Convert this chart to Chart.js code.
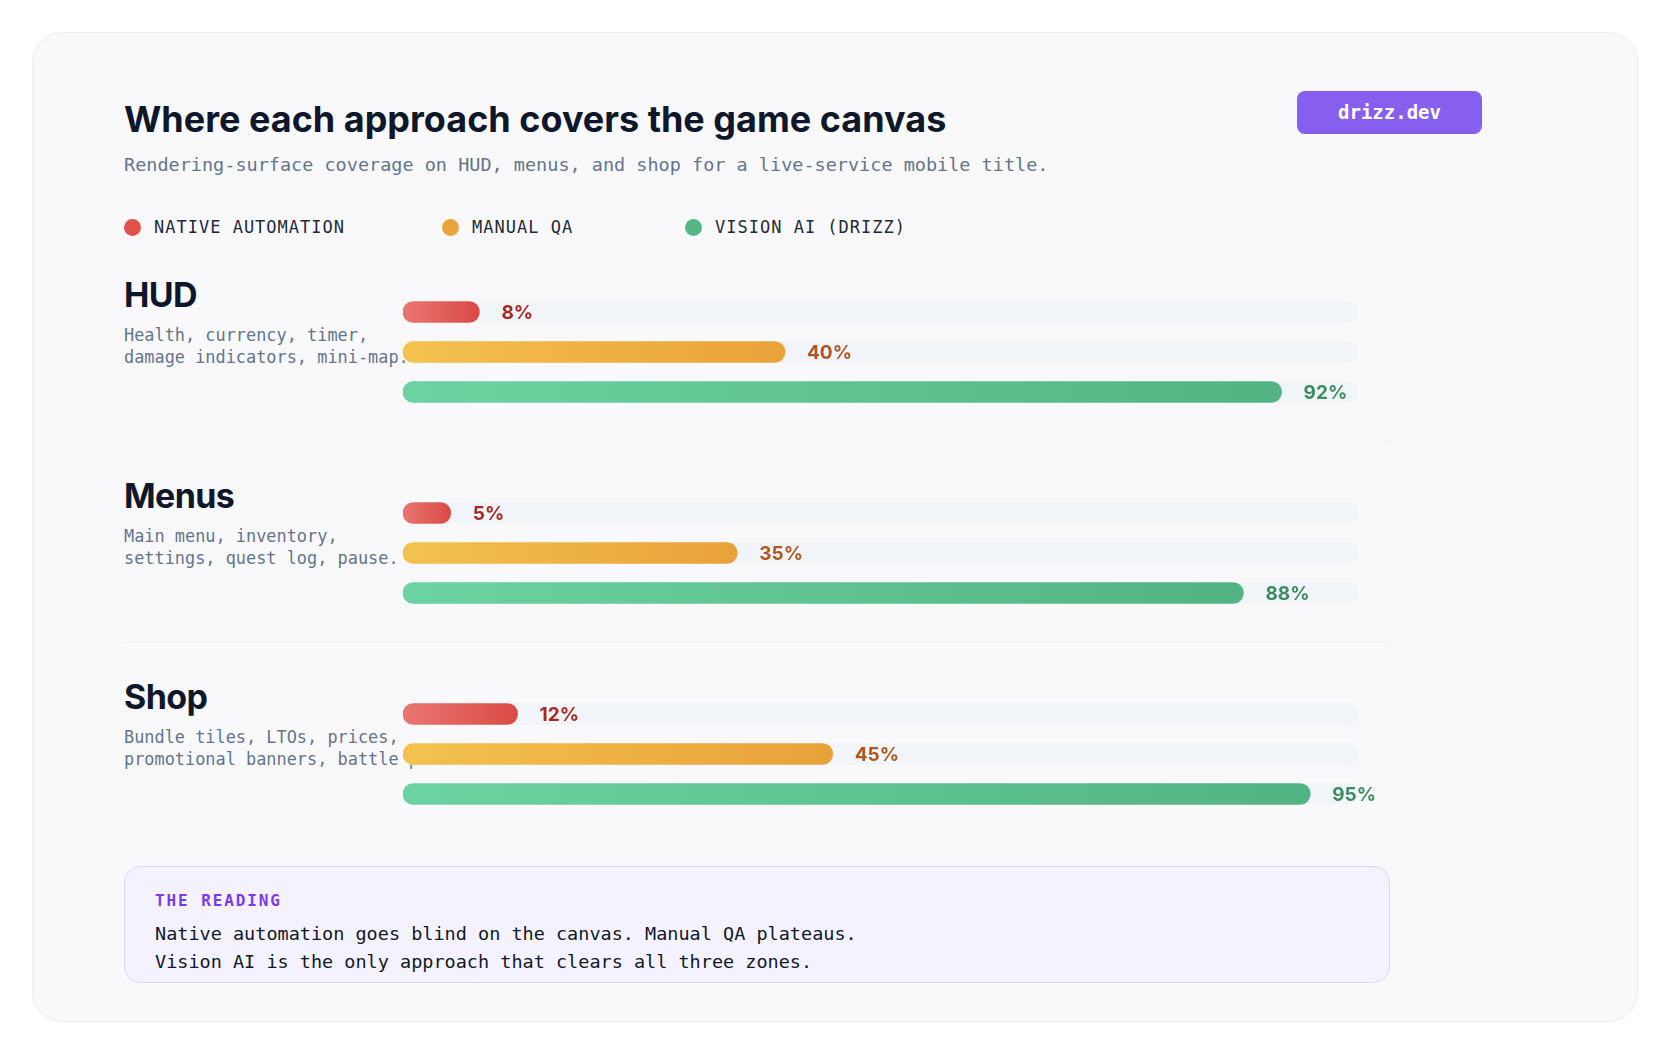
<!DOCTYPE html>
<html>
<head>
<meta charset="utf-8">
<script src="https://cdn.jsdelivr.net/npm/chart.js@4.4.1/dist/chart.umd.min.js"></script>
<style>
  html, body { margin: 0; padding: 0; background: #ffffff; }
  body { width: 1670px; height: 1044px; position: relative; overflow: hidden; }
  .card {
    position: absolute; left: 32px; top: 32px; width: 1604px; height: 988px;
    background: #f9f9fc; border: 1px solid #e9ecf2; border-radius: 30px;
  }
  .abs { position: absolute; white-space: nowrap; }
  .title {
    left: 124px; top: 101px; font: 700 36px/36px Inter, sans-serif;
    color: #0f172a; letter-spacing: 0;
  }
  .subtitle {
    left: 124px; top: 153px; font: 400 18.5px/24px "DejaVu Sans Mono", monospace;
    color: #64748b;
  }
  .badge {
    left: 1297px; top: 91px; width: 185px; height: 43px; border-radius: 8px;
    background: #875fee; color: #fff; text-align: center;
    font: 700 19px/43px "DejaVu Sans Mono", monospace;
  }
  .legend-item { top: 217px; height: 20px; font: 400 17px/20px "DejaVu Sans Mono", monospace; color: #1f2937; letter-spacing: 1px; }
  .legend-item .dot { position: absolute; left: 0; top: 1.5px; width: 17px; height: 17px; border-radius: 50%; }
  .legend-item .txt { position: absolute; left: 30px; top: 0; }
  .zone-title { left: 124px; font: 700 34px/34px Inter, sans-serif; color: #0f172a; letter-spacing: -0.6px; }
  .zone-note { left: 124px; font: 400 16.9px/22px "DejaVu Sans Mono", monospace; color: #64748b; white-space: pre; }
  .sep { left: 124px; width: 1266px; height: 1px; background: #eceff4; }
  .zone-canvas { position: absolute; left: 403px; width: 1005px; height: 120px; }
  .reading {
    left: 124px; top: 866px; width: 1264px; height: 115px;
    background: #f4f2fe; border: 1.5px solid #dcd5fa; border-radius: 16px;
  }
  .reading .label { position: absolute; left: 30px; top: 24px; font: 700 16px/20px "DejaVu Sans Mono", monospace; color: #7c3aed; letter-spacing: 1.9px; }
  .reading .body { position: absolute; left: 30px; top: 53px; font: 400 18.5px/28px "DejaVu Sans Mono", monospace; color: #111827; white-space: pre; }
</style>
</head>
<body>
<div class="card"></div>
<div class="abs title">Where each approach covers the game canvas</div>
<div class="abs subtitle">Rendering-surface coverage on HUD, menus, and shop for a live-service mobile title.</div>
<div class="abs badge">drizz.dev</div>
<div id="legend"></div>
<div id="zones"></div>
<div class="abs reading">
  <div class="label">THE READING</div>
  <div class="body">Native automation goes blind on the canvas. Manual QA plateaus.
Vision AI is the only approach that clears all three zones.</div>
</div>

<script>
// chart data
const zones = ['HUD', 'Menus', 'Shop'];
const zoneNotes = [
  'Health, currency, timer,\ndamage indicators, mini-map.',
  'Main menu, inventory,\nsettings, quest log, pause.',
  'Bundle tiles, LTOs, prices,\npromotional banners, battle pass.'
];
const approaches = ['NATIVE AUTOMATION', 'MANUAL QA', 'VISION AI (DRIZZ)'];
const nativeAutomation = [8, 5, 12];
const manualQA = [40, 35, 45];
const visionAI = [92, 88, 95];

// styling
const dotColors = ['#e0514b', '#eaa43b', '#55b785'];
const gradStops = [['#e97672', '#db4a44'], ['#f3c24d', '#e9a13a'], ['#6bd3a1', '#52b482']];
const labelColors = ['#a9271f', '#b0561f', '#3b8c5f'];
const legendLeft = [124, 442, 685];

const legend = document.getElementById('legend');
approaches.forEach((name, i) => {
  const item = document.createElement('div');
  item.className = 'abs legend-item';
  item.style.left = legendLeft[i] + 'px';
  item.innerHTML = '<span class="dot" style="background:' + dotColors[i] + '"></span><span class="txt">' + name + '</span>';
  legend.appendChild(item);
});

const valueLabels = {
  id: 'valueLabels',
  afterDatasetsDraw(chart) {
    const meta = chart.getDatasetMeta(0);
    const ctx = chart.ctx;
    ctx.save();
    ctx.font = '700 19px Inter, sans-serif';
    ctx.textBaseline = 'middle';
    meta.data.forEach((bar, i) => {
      ctx.fillStyle = labelColors[i];
      ctx.fillText(chart.data.datasets[0].data[i] + '%', bar.x + 22, bar.y + 1);
    });
    ctx.restore();
  }
};

function barFill(c) {
  const chart = c.chart;
  const i = c.dataIndex;
  if (!chart.chartArea || !chart.scales.x) return gradStops[i][1];
  const x = chart.scales.x;
  const x0 = x.getPixelForValue(0);
  const x1 = x.getPixelForValue(c.raw);
  const g = chart.ctx.createLinearGradient(x0, 0, x1, 0);
  g.addColorStop(0, gradStops[i][0]);
  g.addColorStop(1, gradStops[i][1]);
  return g;
}

const host = document.getElementById('zones');
zones.forEach((zone, z) => {
  const y0 = 280 + 201 * z;

  const t = document.createElement('div');
  t.className = 'abs zone-title';
  t.style.top = (y0 - 2) + 'px';
  t.textContent = zone;
  host.appendChild(t);

  const n = document.createElement('div');
  n.className = 'abs zone-note';
  n.style.top = (y0 + 44) + 'px';
  n.textContent = zoneNotes[z];
  host.appendChild(n);

  if (z < zones.length - 1) {
    const s = document.createElement('div');
    s.className = 'abs sep';
    s.style.top = (y0 + 161) + 'px';
    host.appendChild(s);
  }

  const wrap = document.createElement('div');
  wrap.className = 'zone-canvas';
  wrap.style.top = (y0 + 11.5) + 'px';
  const cv = document.createElement('canvas');
  wrap.appendChild(cv);
  host.appendChild(wrap);

  new Chart(cv, {
    type: 'bar',
    data: {
      labels: approaches,
      datasets: [{
        label: zone,
        data: [nativeAutomation[z], manualQA[z], visionAI[z]],
        backgroundColor: barFill,
        borderRadius: 11,
        borderSkipped: false,
        barThickness: 21,
        grouped: false,
        order: 1
      }, {
        label: 'track',
        data: approaches.map(() => 100),
        backgroundColor: '#f1f4f9',
        borderRadius: 11,
        borderSkipped: false,
        barThickness: 21,
        grouped: false,
        order: 2
      }]
    },
    options: {
      indexAxis: 'y',
      responsive: true,
      maintainAspectRatio: false,
      animation: false,
      layout: { padding: { left: 0, right: 50, top: 0, bottom: 0 } },
      scales: {
        x: { display: false, min: 0, max: 100 },
        y: { display: false }
      },
      plugins: {
        legend: { display: false },
        tooltip: { enabled: false }
      }
    },
    plugins: [valueLabels]
  });
});
</script>
</body>
</html>
